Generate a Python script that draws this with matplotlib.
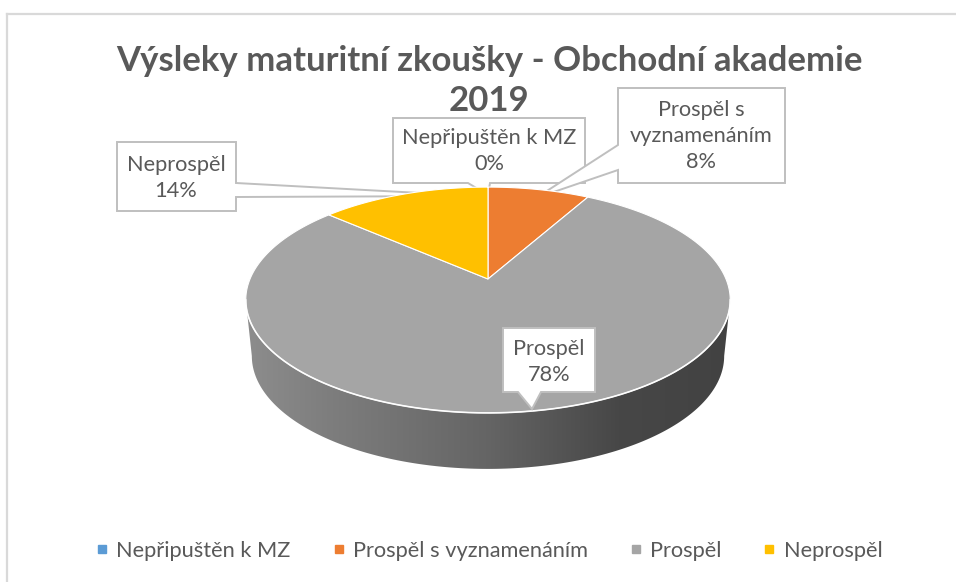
import numpy as np
import matplotlib
matplotlib.use("Agg")
import matplotlib.pyplot as plt
from matplotlib.patches import Polygon
from matplotlib.lines import Line2D
from matplotlib.colors import to_rgb

plt.rcParams['font.family'] = ['Lato', 'DejaVu Sans']

# ---- data ----
categories = ["Nepřipuštěn k MZ", "Prospěl s vyznamenáním", "Prospěl", "Neprospěl"]
values = [0, 3, 29, 5]
colors = ["#5b9bd5", "#ed7d31", "#a5a5a5", "#ffc000"]
title_lines = ["Výsleky maturitní zkoušky - Obchodní akademie", "2019"]
label_names = ["Nepřipuštěn k MZ", "Prospěl s\nvyznamenáním", "Prospěl", "Neprospěl"]

W, H = 956, 582
fig = plt.figure(figsize=(W / 100, H / 100), dpi=100)
ax = fig.add_axes([0, 0, 1, 1])
ax.set_xlim(0, W)
ax.set_ylim(H, 0)
ax.axis('off')

TXT = "#595959"
EDGE = "#bfbfbf"

# chart border
ax.add_line(Line2D([7, 7], [H, 14], color="#d9d9d9", lw=1.6, zorder=0))
ax.add_line(Line2D([7, W], [14, 14], color="#d9d9d9", lw=1.6, zorder=0))

# title (wrapped over two lines as in the original)
ax.text(489, 61, title_lines[0], ha='center', va='center', fontsize=25,
        fontweight='bold', color=TXT, zorder=6)
ax.text(489, 101, title_lines[1], ha='center', va='center', fontsize=25,
        fontweight='bold', color=TXT, zorder=6)

# ---- 3D pie projection ----
cx, cy, R, A, b = 488.0, 279.0, 238.0, 109.0, 0.186
DEPTH, SX_BOT = 56.0, 0.975


def proj(theta, dy=0.0, sx=1.0):
    s, c = np.sin(theta), np.cos(theta)
    den = 1 + b * c
    return cx + R * sx * s / den, cy - A * c / den + dy


vals = np.array(values, dtype=float)
frac = vals / vals.sum()
starts = np.concatenate([[0], np.cumsum(frac)[:-1]]) * 2 * np.pi
ends = np.cumsum(frac) * 2 * np.pi

# side wall (visible front portion)
thL = np.arccos(-b)
thR = 2 * np.pi - np.arccos(-b)
gx = np.array([240, 330, 488, 620, 735])
gf = np.array([0.86, 0.76, 0.61, 0.43, 0.40])
xs_img = np.linspace(230, 745, 400)
fac = np.interp(xs_img, gx, gf)
for s0, e0, col, v in zip(starts, ends, colors, values):
    if v == 0:
        continue
    a0, a1 = max(s0, thL), min(e0, thR)
    if a1 <= a0:
        continue
    t = np.linspace(a0, a1, 200)
    tx, ty = proj(t)
    bx, by = proj(t[::-1], DEPTH, SX_BOT)
    poly = Polygon(np.column_stack([np.r_[tx, bx], np.r_[ty, by]]), closed=True,
                   facecolor='none', edgecolor='none', zorder=2)
    ax.add_patch(poly)
    base = np.array(to_rgb(col))
    img = (fac[None, :, None] * base[None, None, :]) * np.ones((2, 1, 1))
    im = ax.imshow(img, extent=[230, 745, 480, 150], aspect='auto', zorder=2,
                   interpolation='bilinear')
    im.set_clip_path(poly)

# top face slices
for s0, e0, col, v in zip(starts, ends, colors, values):
    if v == 0:
        continue
    t = np.linspace(s0, e0, 300)
    px, py = proj(t)
    pts = np.column_stack([np.r_[cx, px], np.r_[cy, py]])
    ax.add_patch(Polygon(pts, closed=True, facecolor=col, edgecolor='white',
                         lw=0.8, zorder=3, joinstyle='round'))

# highlight on front edge of the top face
t = np.linspace(thL, thR, 300)
hx, hy = proj(t)
ax.plot(hx, hy, color='white', lw=1.2, zorder=4, alpha=0.9)


# ---- callouts ----
def callout(box, notch, side, tip, z):
    x0, y0, x1, y1 = box
    n0, n1 = notch
    if side == 'right':
        pts = [(x0, y0), (x1, y0), (x1, n0), tip, (x1, n1), (x1, y1), (x0, y1)]
    elif side == 'left':
        pts = [(x0, y0), (x1, y0), (x1, y1), (x0, y1), (x0, n1), tip, (x0, n0)]
    else:  # bottom
        pts = [(x0, y0), (x1, y0), (x1, y1), (n1, y1), tip, (n0, y1), (x0, y1)]
    ax.add_patch(Polygon(pts, closed=True, facecolor='white', edgecolor=EDGE,
                         lw=1.4, zorder=z, joinstyle='miter'))


LFS = 15.7
callout((117, 142, 236, 211), (183, 197), 'right', (476, 196), 1)   # Neprospěl
callout((393, 118, 585, 183), (468, 490), 'bottom', (488, 195), 1)  # Nepřipuštěn
callout((618, 88, 785, 183), (145, 170), 'left', (536, 198), 1)     # Prospěl s vyz.
callout((503, 328, 595, 392), (518, 541), 'bottom', (532, 409), 5)  # Prospěl

pct = [f"{round(f * 100):.0f}%" for f in frac]
label_pos = [(489, 151), (701, 136), (549, 362), (176, 178)]
for name, p, (lx, ly) in zip(label_names, pct, label_pos):
    ax.text(lx, ly, f"{name}\n{p}", ha='center', va='center', fontsize=LFS,
            color=TXT, linespacing=1.36, multialignment='center', zorder=6)

# legend
handles = [Line2D([], [], marker='s', ls='', color=c, markersize=5.5) for c in colors]
leg = fig.legend(handles, categories, loc='center', ncol=4,
                 bbox_to_anchor=(489 / W, 1 - 551 / H), frameon=False,
                 fontsize=15.7, handlelength=0.6, handletextpad=0.35,
                 columnspacing=1.9, labelcolor=TXT)

fig.savefig("out.png", dpi=100)
